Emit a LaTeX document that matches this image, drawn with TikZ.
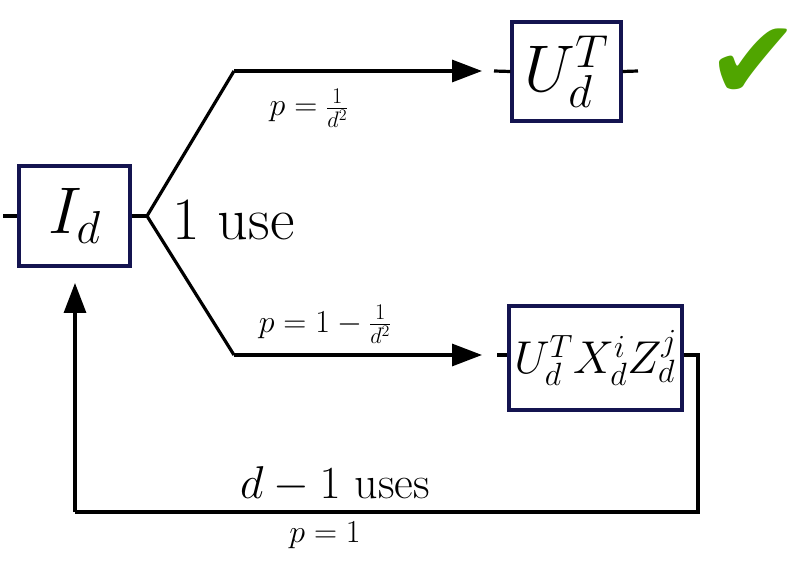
\RequirePackage{fix-cm}
\documentclass[tikz,border=0pt]{standalone}
\usepackage{fontspec}
\newfontfamily\symfont{DejaVu Sans}
\usetikzlibrary{arrows.meta}
\definecolor{boxnavy}{RGB}{20,20,80}
\definecolor{okgreen}{RGB}{80,165,0}
\tikzset{
  gate/.style={draw=boxnavy, line width=3.2pt, fill=white, inner sep=0pt},
  wire/.style={line width=3.2pt, black},
  arr/.style={wire, -{Triangle[length=30pt,width=22pt]}},
  big/.style={font=\fontsize{60}{64}\selectfont},
  mid/.style={font=\fontsize{46}{50}\selectfont},
  small/.style={font=\fontsize{32}{36}\selectfont},
  boxtxt/.style={font=\fontsize{66}{70}\selectfont}
}
\begin{document}
\begin{tikzpicture}[x=1pt,y=-1pt]
\useasboundingbox (0,0) rectangle (804,561);
% boxes
\node[gate, boxtxt, minimum width=111pt, minimum height=100pt] (I) at (74.5,216) {$I_d$};
\node[gate, boxtxt, minimum width=109pt, minimum height=99pt] (U) at (566.5,71.5) {$U_d^T$};
\node[gate, font=\fontsize{46}{50}\selectfont, minimum width=173pt, minimum height=104pt] (V) at (595.5,358) {$U_d^T X_d^i Z_d^j$};
% coordinates
\coordinate (inL) at (3,216);
\coordinate (b) at (147,216);
\coordinate (up) at (234,71);
\coordinate (dn) at (234,355);
\coordinate (tipU) at (482,71);
\coordinate (tipV) at (482,355);
\coordinate (UinL) at (494,71);
\coordinate (UoutR) at (638,71);
\coordinate (VinL) at (497,355);
\coordinate (c1) at (698,355);
\coordinate (c2) at (698,512);
\coordinate (c3) at (75,512);
\coordinate (tipI) at (75,283);
% wires
\draw[wire] (inL) -- (I.west);
\draw[wire] (I.east) -- (b);
\draw[wire] (b) -- (up);
\draw[wire] (b) -- (dn);
\draw[arr] (up) -- (tipU);
\draw[arr] (dn) -- (tipV);
\draw[wire] (UinL) -- (U.west);
\draw[wire] (U.east) -- (UoutR);
\draw[wire] (VinL) -- (V.west |- VinL);
\draw[wire] (V.east |- c1) -- (c1) -- (c2) -- (c3);
\draw[arr] (c3) -- (tipI);
% labels
\node[big, anchor=west, inner sep=0pt] (use1) at (172,220) {1 use};
\node[small, inner sep=0pt] (pU) at (309,108) {$p=\frac{1}{d^2}$};
\node[small, inner sep=0pt] (pV) at (325,324) {$p=1-\frac{1}{d^2}$};
\node[mid, inner sep=0pt] (uses) at (335,484) {$d-1$ uses};
\node[small, inner sep=0pt] (p1) at (325,535) {$p=1$};
\node[text=okgreen, font=\symfont\fontsize{112}{116}\selectfont, inner sep=0pt] (ok) at (753,64) {✔};
\end{tikzpicture}
\end{document}
